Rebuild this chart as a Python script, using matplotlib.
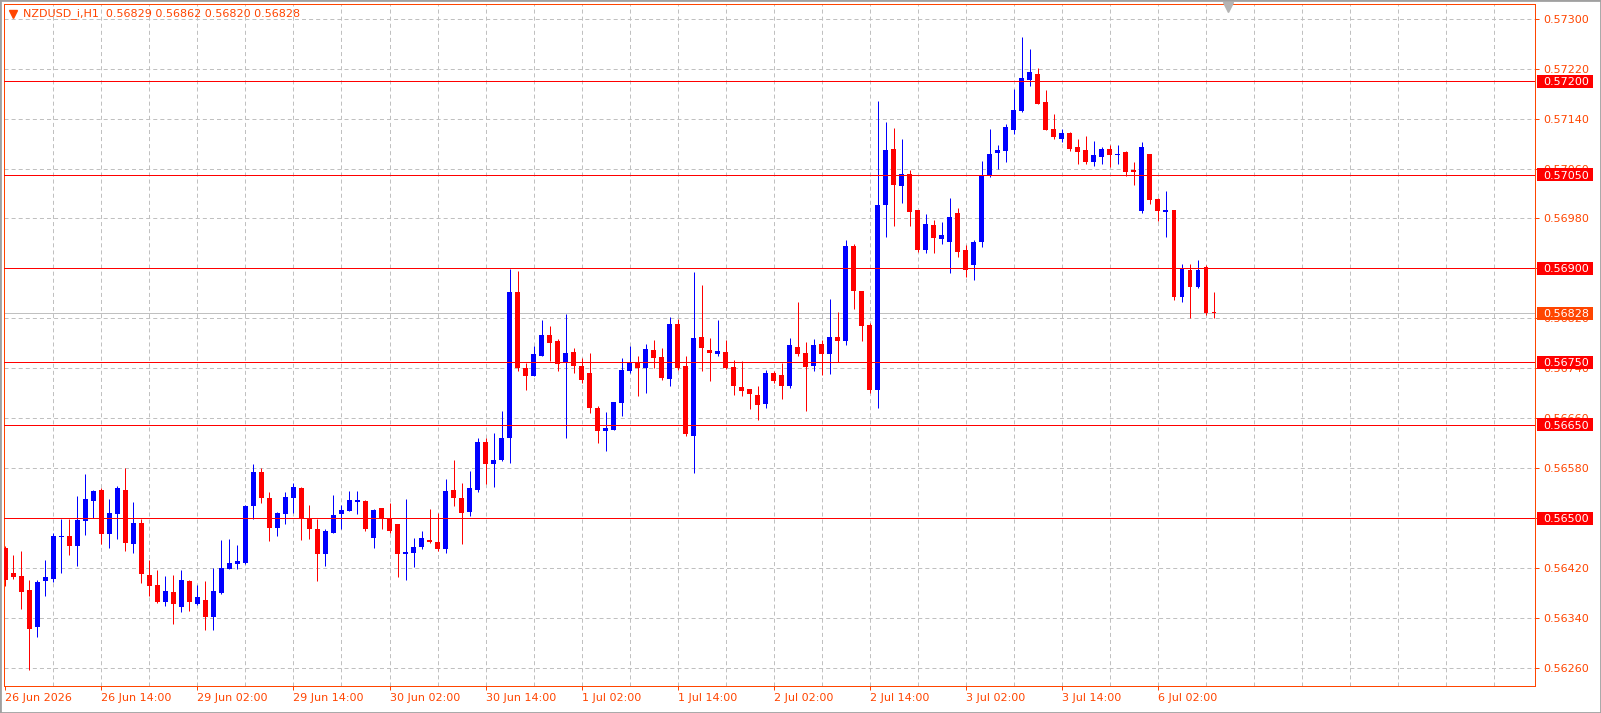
import matplotlib
matplotlib.use("Agg")
import matplotlib.pyplot as plt
from matplotlib import transforms
from matplotlib.patches import Rectangle
from matplotlib.lines import Line2D

# H1 bars, oldest first (26 Jun 02:00 .. 6 Jul 09:00)
opens = [
    0.56452, 0.56412, 0.56408, 0.56385, 0.56325, 0.56399, 0.56403, 0.56470, 0.56472, 0.56456,
    0.56496, 0.56528, 0.56545, 0.56475, 0.56507, 0.56545, 0.56459, 0.56493, 0.56409, 0.56393,
    0.56365, 0.56382, 0.56357, 0.56400, 0.56363, 0.56369, 0.56341, 0.56380, 0.56419, 0.56427,
    0.56428, 0.56520, 0.56574, 0.56533, 0.56485, 0.56507, 0.56533, 0.56549, 0.56499, 0.56483,
    0.56443, 0.56477, 0.56507, 0.56512, 0.56526, 0.56528, 0.56469, 0.56517, 0.56500, 0.56491,
    0.56443, 0.56445, 0.56454, 0.56465, 0.56462, 0.56451, 0.56545, 0.56532, 0.56510, 0.56545,
    0.56622, 0.56587, 0.56593, 0.56628, 0.56862, 0.56741, 0.56728, 0.56760, 0.56793, 0.56784,
    0.56749, 0.56766, 0.56744, 0.56733, 0.56677, 0.56640, 0.56642, 0.56685, 0.56736, 0.56750,
    0.56741, 0.56769, 0.56758, 0.56723, 0.56811, 0.56743, 0.56632, 0.56790, 0.56769, 0.56763,
    0.56766, 0.56742, 0.56710, 0.56707, 0.56698, 0.56683, 0.56732, 0.56729, 0.56712, 0.56774,
    0.56764, 0.56744, 0.56779, 0.56763, 0.56790, 0.56784, 0.56936, 0.56864, 0.56809, 0.56706,
    0.57002, 0.57091, 0.57032, 0.57052, 0.56993, 0.56929, 0.56969, 0.56947, 0.56942, 0.56988,
    0.56929, 0.56905, 0.56943, 0.57048, 0.57085, 0.57088, 0.57121, 0.57152, 0.57201, 0.57211,
    0.57166, 0.57123, 0.57108, 0.57117, 0.57094, 0.57089, 0.57070, 0.57078, 0.57092, 0.57081,
    0.57086, 0.57057, 0.56992, 0.57083, 0.57011, 0.56990, 0.56993, 0.56854, 0.56897, 0.56870,
    0.56902, 0.56829,
]
highs = [
    0.56455, 0.56441, 0.56448, 0.56401, 0.56401, 0.56433, 0.56477, 0.56499, 0.56499, 0.56536,
    0.56571, 0.56545, 0.56549, 0.56531, 0.56552, 0.56580, 0.56526, 0.56499, 0.56433, 0.56417,
    0.56408, 0.56409, 0.56417, 0.56401, 0.56393, 0.56400, 0.56420, 0.56465, 0.56467, 0.56457,
    0.56521, 0.56587, 0.56581, 0.56542, 0.56510, 0.56542, 0.56557, 0.56550, 0.56521, 0.56499,
    0.56482, 0.56537, 0.56521, 0.56544, 0.56544, 0.56529, 0.56515, 0.56517, 0.56524, 0.56491,
    0.56531, 0.56468, 0.56480, 0.56515, 0.56508, 0.56563, 0.56593, 0.56556, 0.56576, 0.56628,
    0.56628, 0.56637, 0.56672, 0.56899, 0.56896, 0.56749, 0.56776, 0.56817, 0.56808, 0.56787,
    0.56827, 0.56773, 0.56756, 0.56765, 0.56680, 0.56670, 0.56686, 0.56757, 0.56775, 0.56760,
    0.56779, 0.56786, 0.56773, 0.56822, 0.56819, 0.56760, 0.56894, 0.56874, 0.56789, 0.56817,
    0.56786, 0.56753, 0.56752, 0.56707, 0.56712, 0.56737, 0.56736, 0.56749, 0.56788, 0.56846,
    0.56782, 0.56787, 0.56785, 0.56851, 0.56830, 0.56945, 0.56939, 0.56864, 0.56812, 0.57168,
    0.57134, 0.57125, 0.57107, 0.57057, 0.56993, 0.56987, 0.56977, 0.56974, 0.57012, 0.56996,
    0.56937, 0.56945, 0.57072, 0.57123, 0.57097, 0.57131, 0.57187, 0.57270, 0.57251, 0.57221,
    0.57185, 0.57147, 0.57123, 0.57118, 0.57107, 0.57112, 0.57104, 0.57094, 0.57097, 0.57097,
    0.57088, 0.57070, 0.57102, 0.57083, 0.57012, 0.57024, 0.56993, 0.56907, 0.56907, 0.56913,
    0.56905, 0.56862,
]
lows = [
    0.56392, 0.56403, 0.56355, 0.56257, 0.56310, 0.56375, 0.56398, 0.56412, 0.56441, 0.56424,
    0.56473, 0.56500, 0.56459, 0.56453, 0.56467, 0.56447, 0.56445, 0.56396, 0.56376, 0.56364,
    0.56360, 0.56331, 0.56349, 0.56352, 0.56361, 0.56321, 0.56321, 0.56379, 0.56419, 0.56419,
    0.56427, 0.56499, 0.56525, 0.56463, 0.56472, 0.56491, 0.56509, 0.56465, 0.56467, 0.56399,
    0.56424, 0.56477, 0.56483, 0.56511, 0.56507, 0.56480, 0.56453, 0.56483, 0.56477, 0.56405,
    0.56401, 0.56422, 0.56450, 0.56460, 0.56448, 0.56445, 0.56520, 0.56459, 0.56504, 0.56542,
    0.56555, 0.56550, 0.56592, 0.56588, 0.56735, 0.56706, 0.56727, 0.56760, 0.56752, 0.56735,
    0.56629, 0.56733, 0.56717, 0.56669, 0.56621, 0.56608, 0.56641, 0.56664, 0.56732, 0.56696,
    0.56700, 0.56740, 0.56722, 0.56712, 0.56738, 0.56631, 0.56573, 0.56736, 0.56720, 0.56759,
    0.56739, 0.56698, 0.56696, 0.56675, 0.56658, 0.56677, 0.56717, 0.56691, 0.56709, 0.56760,
    0.56672, 0.56736, 0.56730, 0.56731, 0.56750, 0.56777, 0.56835, 0.56784, 0.56701, 0.56677,
    0.56951, 0.56968, 0.57004, 0.56968, 0.56926, 0.56924, 0.56924, 0.56939, 0.56892, 0.56919,
    0.56887, 0.56881, 0.56934, 0.57046, 0.57060, 0.57070, 0.57116, 0.57150, 0.57192, 0.57164,
    0.57121, 0.57108, 0.57102, 0.57088, 0.57067, 0.57068, 0.57064, 0.57068, 0.57062, 0.57068,
    0.57048, 0.57033, 0.56988, 0.57003, 0.56976, 0.56951, 0.56849, 0.56847, 0.56820, 0.56868,
    0.56826, 0.56820,
]
closes = [
    0.56401, 0.56405, 0.56381, 0.56323, 0.56397, 0.56406, 0.56472, 0.56471, 0.56456, 0.56497,
    0.56531, 0.56544, 0.56475, 0.56509, 0.56549, 0.56461, 0.56493, 0.56410, 0.56392, 0.56366,
    0.56384, 0.56363, 0.56401, 0.56365, 0.56374, 0.56341, 0.56384, 0.56420, 0.56428, 0.56432,
    0.56520, 0.56574, 0.56532, 0.56485, 0.56509, 0.56534, 0.56550, 0.56499, 0.56483, 0.56442,
    0.56480, 0.56505, 0.56513, 0.56529, 0.56529, 0.56483, 0.56513, 0.56499, 0.56480, 0.56442,
    0.56446, 0.56454, 0.56468, 0.56462, 0.56451, 0.56544, 0.56532, 0.56508, 0.56548, 0.56622,
    0.56587, 0.56593, 0.56628, 0.56862, 0.56741, 0.56728, 0.56763, 0.56793, 0.56781, 0.56747,
    0.56765, 0.56744, 0.56722, 0.56677, 0.56640, 0.56645, 0.56686, 0.56737, 0.56750, 0.56741,
    0.56771, 0.56756, 0.56724, 0.56811, 0.56741, 0.56635, 0.56789, 0.56772, 0.56764, 0.56768,
    0.56741, 0.56712, 0.56704, 0.56699, 0.56682, 0.56732, 0.56720, 0.56712, 0.56777, 0.56763,
    0.56742, 0.56777, 0.56763, 0.56790, 0.56784, 0.56936, 0.56864, 0.56808, 0.56706, 0.57001,
    0.57090, 0.57034, 0.57052, 0.56990, 0.56929, 0.56971, 0.56948, 0.56953, 0.56982, 0.56926,
    0.56897, 0.56943, 0.57049, 0.57084, 0.57089, 0.57126, 0.57153, 0.57205, 0.57214, 0.57164,
    0.57121, 0.57110, 0.57117, 0.57091, 0.57086, 0.57070, 0.57081, 0.57091, 0.57081, 0.57084,
    0.57054, 0.57054, 0.57094, 0.57009, 0.56992, 0.56993, 0.56855, 0.56899, 0.56871, 0.56897,
    0.56829, 0.56828,
]

symbol = "NZDUSD_i,H1"
level_lines = [0.57200, 0.57050, 0.56900, 0.56750, 0.56650, 0.56500]
price_ticks = [0.57300, 0.57220, 0.57140, 0.57060, 0.56980, 0.56900, 0.56820,
               0.56740, 0.56660, 0.56580, 0.56500, 0.56420, 0.56340, 0.56260]
time_tick_bars = [0, 12, 24, 36, 48, 60, 72, 84, 96, 108, 120, 132, 144]
time_tick_labels = ["26 Jun 2026", "26 Jun 14:00", "29 Jun 02:00", "29 Jun 14:00",
                    "30 Jun 02:00", "30 Jun 14:00", "1 Jul 02:00", "1 Jul 14:00",
                    "2 Jul 02:00", "2 Jul 14:00", "3 Jul 02:00", "3 Jul 14:00",
                    "6 Jul 02:00"]

FG = "#FF4500"
BULL = "#0000FF"
BEAR = "#FF0000"
GRID = "#C0C0C0"
W, H = 1601, 713
PX = 0.72  # one pixel in points at dpi 100

plt.rcParams["font.family"] = "DejaVu Sans"
plt.rcParams["lines.scale_dashes"] = False

fig = plt.figure(figsize=(W / 100, H / 100), dpi=100)
fig.patch.set_facecolor("white")
left, right, top, bottom = 4, 1535, 4, 686
ax = fig.add_axes([left / W, 1 - bottom / H, (right - left) / W, (bottom - top) / H])
ax.set_xlim(-0.16, 191.1)
ax.set_ylim(0.562312, 0.573235)

# grid
dash = (0, (2.9, 2.2))
for p in price_ticks:
    ax.axhline(p, color=GRID, lw=PX, ls=dash, zorder=1)
for k in range(6, 191, 6):
    ax.axvline(k, color=GRID, lw=PX, ls=dash, zorder=1)

# bid line
ax.axhline(closes[-1], color=GRID, lw=PX, zorder=1.5)

# candles
idx = list(range(len(opens)))
cols = [BULL if c >= o else BEAR for o, c in zip(opens, closes)]
ax.vlines(idx, lows, highs, colors=cols, lw=PX, zorder=2)
body_low = [min(o, c) for o, c in zip(opens, closes)]
body_h = [max(abs(c - o), 0.000016) for o, c in zip(opens, closes)]
ax.bar(idx, body_h, bottom=body_low, width=0.62, color=cols, lw=0, zorder=3)

# horizontal level lines
for lv in level_lines:
    ax.axhline(lv, color="#FF0000", lw=PX, zorder=4)

# axes styling
for s in ax.spines.values():
    s.set_color(FG)
    s.set_linewidth(PX)
ax.yaxis.tick_right()
ax.set_yticks(price_ticks)
ax.set_yticklabels([f"{p:.5f}" for p in price_ticks])
ax.tick_params(axis="y", length=3, width=PX, color=FG, labelcolor=FG,
               labelsize=8, pad=3)
ax.set_xticks(time_tick_bars)
ax.set_xticklabels(time_tick_labels)
ax.tick_params(axis="x", length=3, width=PX, color=FG, labelcolor=FG,
               labelsize=8, pad=2)
for lbl in ax.get_xticklabels():
    lbl.set_ha("left")

# price boxes on the right scale
blend = transforms.blended_transform_factory(fig.transFigure, ax.transData)
box_h = 13 / 62433
for lv, bg in [(v, "#FF0000") for v in level_lines] + [(closes[-1], FG)]:
    ax.add_patch(Rectangle((1537 / W, lv - box_h / 2), 56 / W, box_h,
                           transform=blend, facecolor=bg, edgecolor="none",
                           clip_on=False, zorder=6))
    ax.text(1543 / W, lv, f"{lv:.5f}", transform=blend, color="white",
            fontsize=8, va="center_baseline", ha="left", clip_on=False, zorder=7)

# header
fig.add_artist(Line2D([12.5 / W], [1 - 14 / H], marker="v", markersize=5.5,
                      color=FG, transform=fig.transFigure))
fig.text(23 / W, 1 - 14 / H,
         f"{symbol}  {opens[-1]:.5f} {highs[-1]:.5f} {lows[-1]:.5f} {closes[-1]:.5f}",
         color=FG, fontsize=8, va="center", ha="left")

# chart shift marker
fig.add_artist(Line2D([1227.5 / W], [1 - 7 / H], marker="v", markersize=7,
                      color="#B4B4B4", transform=fig.transFigure))

# window frame
fig.add_artist(Rectangle((0, 0), 1, 1, transform=fig.transFigure, fill=False,
                         edgecolor="#A0A0A0", lw=2))

fig.savefig("out.png", dpi=100, facecolor="white")
